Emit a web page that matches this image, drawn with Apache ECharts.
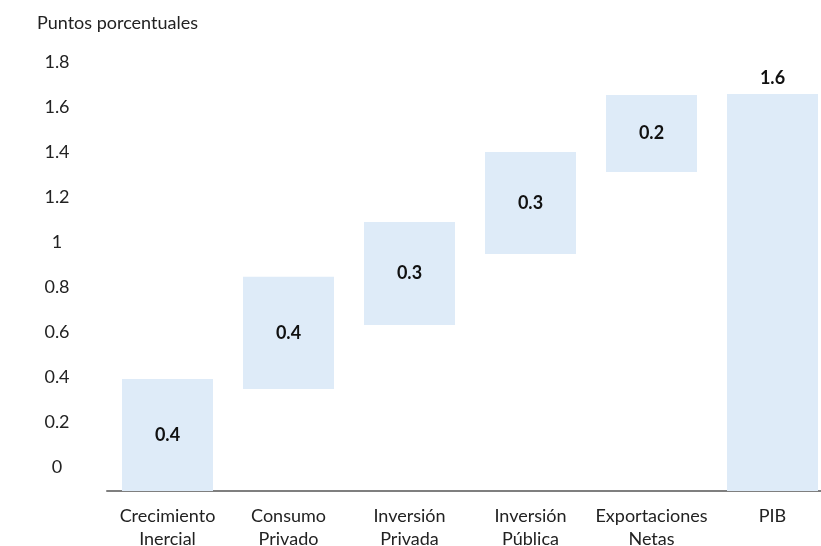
<!DOCTYPE html>
<html>
<head>
<meta charset="utf-8">
<script src="https://cdn.jsdelivr.net/npm/echarts@6/dist/echarts.min.js"></script>
<style>html,body{margin:0;padding:0;background:#fff}#c{width:821px;height:546px}</style>
</head>
<body>
<div id="c"></div>
<script>
const categories = ['Crecimiento\nInercial', 'Consumo\nPrivado', 'Inversión\nPrivada', 'Inversión\nPública', 'Exportaciones\nNetas', 'PIB'];
const barBase = [0, 0.411, 0.669, 0.955, 1.286, 0];
const barHeight = [0.451, 0.452, 0.415, 0.411, 0.310, 1.600];
const valueLabels = ['0.4', '0.4', '0.3', '0.3', '0.2', '1.6'];
const yTicks = [0, 0.2, 0.4, 0.6, 0.8, 1, 1.2, 1.4, 1.6, 1.8];

const FONT = 'Lato';
const chart = echarts.init(document.getElementById('c'), null, {renderer: 'canvas'});
chart.setOption({
  animation: false,
  backgroundColor: '#ffffff',
  textStyle: {fontFamily: FONT},
  title: {
    text: 'Puntos porcentuales',
    left: 32, top: 9,
    textStyle: {fontFamily: FONT, fontSize: 18, fontWeight: 'normal', color: '#222'}
  },
  grid: {left: 107, right: -12, top: 62, bottom: 55, containLabel: false, outerBoundsMode: 'none'},
  xAxis: {
    type: 'category',
    data: categories,
    axisLine: {onZero: false, lineStyle: {color: '#7f7f7f', width: 2}},
    axisTick: {show: false},
    axisLabel: {fontFamily: FONT, fontSize: 18, color: '#222', lineHeight: 23, margin: 14, interval: 0}
  },
  yAxis: [
    {
      type: 'value',
      min: -0.1067, max: 1.8,
      axisLine: {show: false}, axisTick: {show: false}, splitLine: {show: false},
      axisLabel: {
        fontFamily: FONT, fontSize: 18, color: '#222', align: 'center', margin: 50,
        customValues: yTicks,
        formatter: function (v) { return String(Math.round(v * 10) / 10); }
      }
    },
    {
      type: 'value',
      min: 0, max: 1.729,
      show: false,
      splitLine: {show: false}
    }
  ],
  series: [
    {
      type: 'bar', stack: 'w', yAxisIndex: 1,
      data: barBase,
      barWidth: 91,
      itemStyle: {color: 'rgba(0,0,0,0)'},
      silent: true
    },
    {
      type: 'bar', stack: 'w', yAxisIndex: 1,
      data: barHeight.map(function (h, i) {
        return {
          value: h,
          label: {position: i === barHeight.length - 1 ? 'top' : 'inside'}
        };
      }),
      barWidth: 91,
      itemStyle: {color: '#deebf8'},
      label: {
        show: true,
        fontFamily: FONT, fontSize: 18, fontWeight: 'bold', color: '#111',
        distance: 7,
        formatter: function (p) { return valueLabels[p.dataIndex]; }
      }
    }
  ]
});
</script>
</body>
</html>
